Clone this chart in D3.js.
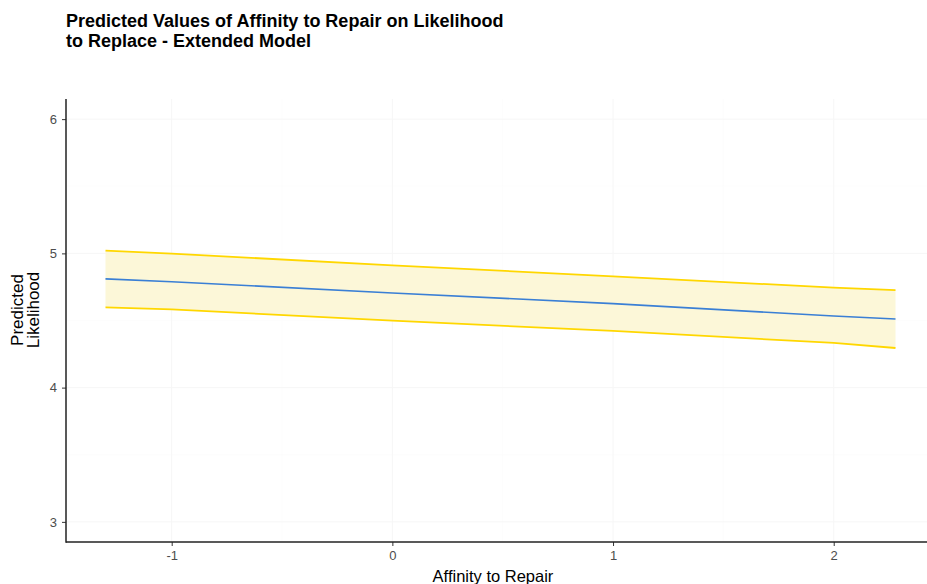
<!DOCTYPE html>
<html>
<head>
<meta charset="utf-8">
<script src="https://cdn.jsdelivr.net/npm/d3@7"></script>
<style>
  html, body { margin: 0; padding: 0; background: #fff; }
  svg { display: block; font-family: "Liberation Sans", Arial, sans-serif; }
</style>
</head>
<body>
<svg id="chart" width="927" height="584"></svg>
<script>
// Predicted values with 95% confidence band
const affinity  = [-1.3, -1, 0, 1, 2, 2.28];
const predicted = [4.810, 4.789, 4.705, 4.626, 4.533, 4.511];
const upperCI   = [5.020, 4.998, 4.911, 4.829, 4.745, 4.727];
const lowerCI   = [4.598, 4.583, 4.499, 4.422, 4.333, 4.295];

const xTicks = [-1, 0, 1, 2];
const yTicks = [3, 4, 5, 6];
const xMinor = [-1.5, -0.5, 0.5, 1.5];
const yMinor = [3.5, 4.5, 5.5];

const titleLines = ["Predicted Values of Affinity to Repair on Likelihood", "to Replace - Extended Model"];
const yTitleLines = ["Predicted", "Likelihood"];
const xTitle = "Affinity to Repair";

const rows = affinity.map((x, i) => ({ x, y: predicted[i], hi: upperCI[i], lo: lowerCI[i] }));

const svg = d3.select("#chart");
const panel = { left: 66, right: 935, top: 99, bottom: 542 };

const x = d3.scaleLinear().domain([-1.479, 2.459]).range([panel.left, panel.right]);
const y = d3.scaleLinear().domain([2.85, 6.15]).range([panel.bottom, panel.top]);

// faint gridlines
const grid = svg.append("g");
grid.selectAll(".gx-minor").data(xMinor).join("line")
  .attr("x1", d => x(d)).attr("x2", d => x(d))
  .attr("y1", panel.top).attr("y2", panel.bottom)
  .attr("stroke", "#fbfbfb").attr("stroke-width", 0.6);
grid.selectAll(".gy-minor").data(yMinor).join("line")
  .attr("y1", d => y(d)).attr("y2", d => y(d))
  .attr("x1", panel.left).attr("x2", panel.right)
  .attr("stroke", "#fbfbfb").attr("stroke-width", 0.6);
grid.selectAll(".gx").data(xTicks).join("line")
  .attr("x1", d => x(d)).attr("x2", d => x(d))
  .attr("y1", panel.top).attr("y2", panel.bottom)
  .attr("stroke", "#f6f6f6").attr("stroke-width", 1);
grid.selectAll(".gy").data(yTicks).join("line")
  .attr("y1", d => y(d)).attr("y2", d => y(d))
  .attr("x1", panel.left).attr("x2", panel.right)
  .attr("stroke", "#f6f6f6").attr("stroke-width", 1);

// confidence band
const area = d3.area().x(d => x(d.x)).y0(d => y(d.lo)).y1(d => y(d.hi));
svg.append("path").datum(rows).attr("d", area)
  .attr("fill", "#fcf7d8").attr("stroke", "none");

const hiLine = d3.line().x(d => x(d.x)).y(d => y(d.hi));
const loLine = d3.line().x(d => x(d.x)).y(d => y(d.lo));
svg.append("path").datum(rows).attr("d", hiLine)
  .attr("fill", "none").attr("stroke", "#ffd700").attr("stroke-width", 1.8);
svg.append("path").datum(rows).attr("d", loLine)
  .attr("fill", "none").attr("stroke", "#ffd700").attr("stroke-width", 1.8);

// fitted line
const fit = d3.line().x(d => x(d.x)).y(d => y(d.y));
svg.append("path").datum(rows).attr("d", fit)
  .attr("fill", "none").attr("stroke", "#3a7fd5").attr("stroke-width", 1.6);

// axes (plain hyphen for negatives)
const fmt = d => String(d);
const xAxis = svg.append("g").attr("transform", `translate(0,${panel.bottom})`)
  .call(d3.axisBottom(x).tickValues(xTicks).tickSize(4).tickPadding(5).tickFormat(fmt));
const yAxis = svg.append("g").attr("transform", `translate(${panel.left},0)`)
  .call(d3.axisLeft(y).tickValues(yTicks).tickSize(4).tickPadding(5).tickFormat(fmt));

[xAxis, yAxis].forEach(g => {
  g.select(".domain").remove();
  g.selectAll(".tick line").attr("stroke", "#333").attr("stroke-width", 1);
  g.selectAll(".tick text").attr("fill", "#4d4d4d").style("font-size", "13px")
    .style("font-family", "'Liberation Sans', Arial, sans-serif");
});

// axis lines
svg.append("line").attr("x1", panel.left).attr("x2", 927)
  .attr("y1", panel.bottom).attr("y2", panel.bottom)
  .attr("stroke", "#222").attr("stroke-width", 1.5);
svg.append("line").attr("x1", panel.left).attr("x2", panel.left)
  .attr("y1", panel.top).attr("y2", panel.bottom + 0.75)
  .attr("stroke", "#222").attr("stroke-width", 1.5);

// title
svg.append("text").attr("x", 66).attr("y", 27)
  .attr("font-size", 18).attr("font-weight", "bold").attr("fill", "#000")
  .selectAll("tspan").data(titleLines).join("tspan")
  .attr("x", 66).attr("dy", (d, i) => i === 0 ? 0 : 20).text(d => d);

// axis titles
svg.append("text")
  .attr("x", 493).attr("y", 582)
  .attr("text-anchor", "middle").attr("font-size", 16.5).attr("fill", "#000")
  .text(xTitle);

svg.append("text")
  .attr("transform", `translate(23,310) rotate(-90)`)
  .attr("text-anchor", "middle").attr("font-size", 17).attr("fill", "#000")
  .selectAll("tspan").data(yTitleLines).join("tspan")
  .attr("x", 0).attr("dy", (d, i) => i === 0 ? 0 : 16).text(d => d);
</script>
</body>
</html>
